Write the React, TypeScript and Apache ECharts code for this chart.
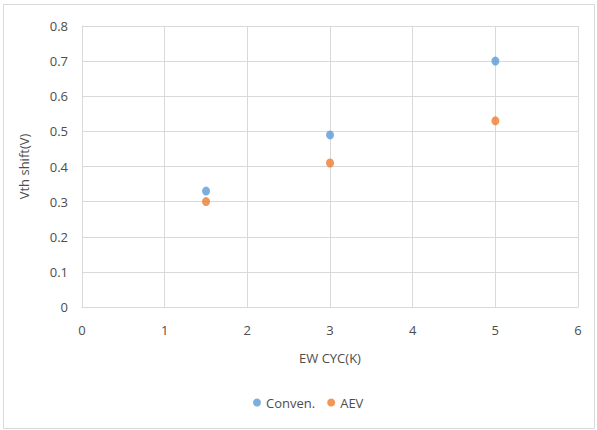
import React, { useEffect, useRef } from "react";
import * as echarts from "echarts";

const seriesNames = ["Conven.", "AEV"];
const xValues = [1.5, 3, 5];
const convenValues = [0.33, 0.49, 0.7];
const aevValues = [0.3, 0.41, 0.53];
const colors = ["#5B9BD5", "#ED7D31"];

export default function App() {
  const ref = useRef<HTMLDivElement>(null);
  useEffect(() => {
    document.body.style.margin = "0";
    const chart = echarts.init(ref.current!, undefined, { renderer: "svg" });
    const font = "'Open Sans', 'Liberation Sans', sans-serif";
    const txt = "#4d4d4d";
    chart.setOption({
      animation: false,
      backgroundColor: "#ffffff",
      textStyle: { fontFamily: font },
      graphic: [
        {
          type: "rect",
          shape: { x: 3.5, y: 4.5, width: 591, height: 424 },
          style: { fill: "none", stroke: "#d9d9d9", lineWidth: 1 },
          silent: true,
        },
      ],
      legend: {
        data: seriesNames,
        bottom: 16,
        left: 248,
        icon: "circle",
        itemWidth: 8,
        itemHeight: 8,
        itemGap: 12,
        textStyle: { color: txt, fontSize: 13, fontFamily: font },
      },
      grid: { left: 82, right: 19, top: 26, bottom: 123 },
      xAxis: {
        type: "value",
        min: 0,
        max: 6,
        interval: 1,
        name: "EW CYC(K)",
        nameLocation: "middle",
        nameGap: 44,
        nameTextStyle: { color: txt, fontSize: 13, fontFamily: font },
        axisLine: { show: true, lineStyle: { color: "#d9d9d9" } },
        axisTick: { show: false },
        axisLabel: { color: txt, fontSize: 13, margin: 16, fontFamily: font },
        splitLine: { show: true, lineStyle: { color: "#d9d9d9" } },
      },
      yAxis: {
        type: "value",
        min: 0,
        max: 0.8,
        interval: 0.1,
        name: "Vth shift(V)",
        nameLocation: "middle",
        nameGap: 52,
        nameTextStyle: { color: txt, fontSize: 13, fontFamily: font },
        axisLine: { show: true, lineStyle: { color: "#d9d9d9" } },
        axisTick: { show: false },
        axisLabel: {
          color: txt,
          fontSize: 13,
          margin: 14,
          fontFamily: font,
          formatter: (v: number) => (v === 0 ? "0" : String(Math.round(v * 10) / 10)),
        },
        splitLine: { show: true, lineStyle: { color: "#d9d9d9" } },
      },
      series: [
        {
          name: seriesNames[0],
          type: "scatter",
          symbol: "circle",
          symbolSize: [8, 9],
          itemStyle: { color: colors[0] },
          data: xValues.map((x, i) => [x, convenValues[i]]),
        },
        {
          name: seriesNames[1],
          type: "scatter",
          symbol: "circle",
          symbolSize: [8, 9],
          itemStyle: { color: colors[1] },
          data: xValues.map((x, i) => [x, aevValues[i]]),
        },
      ],
    });
    return () => chart.dispose();
  }, []);
  return (
    <div
      ref={ref}
      style={{ position: "fixed", left: 0, top: 0, width: 597, height: 430 }}
    />
  );
}
